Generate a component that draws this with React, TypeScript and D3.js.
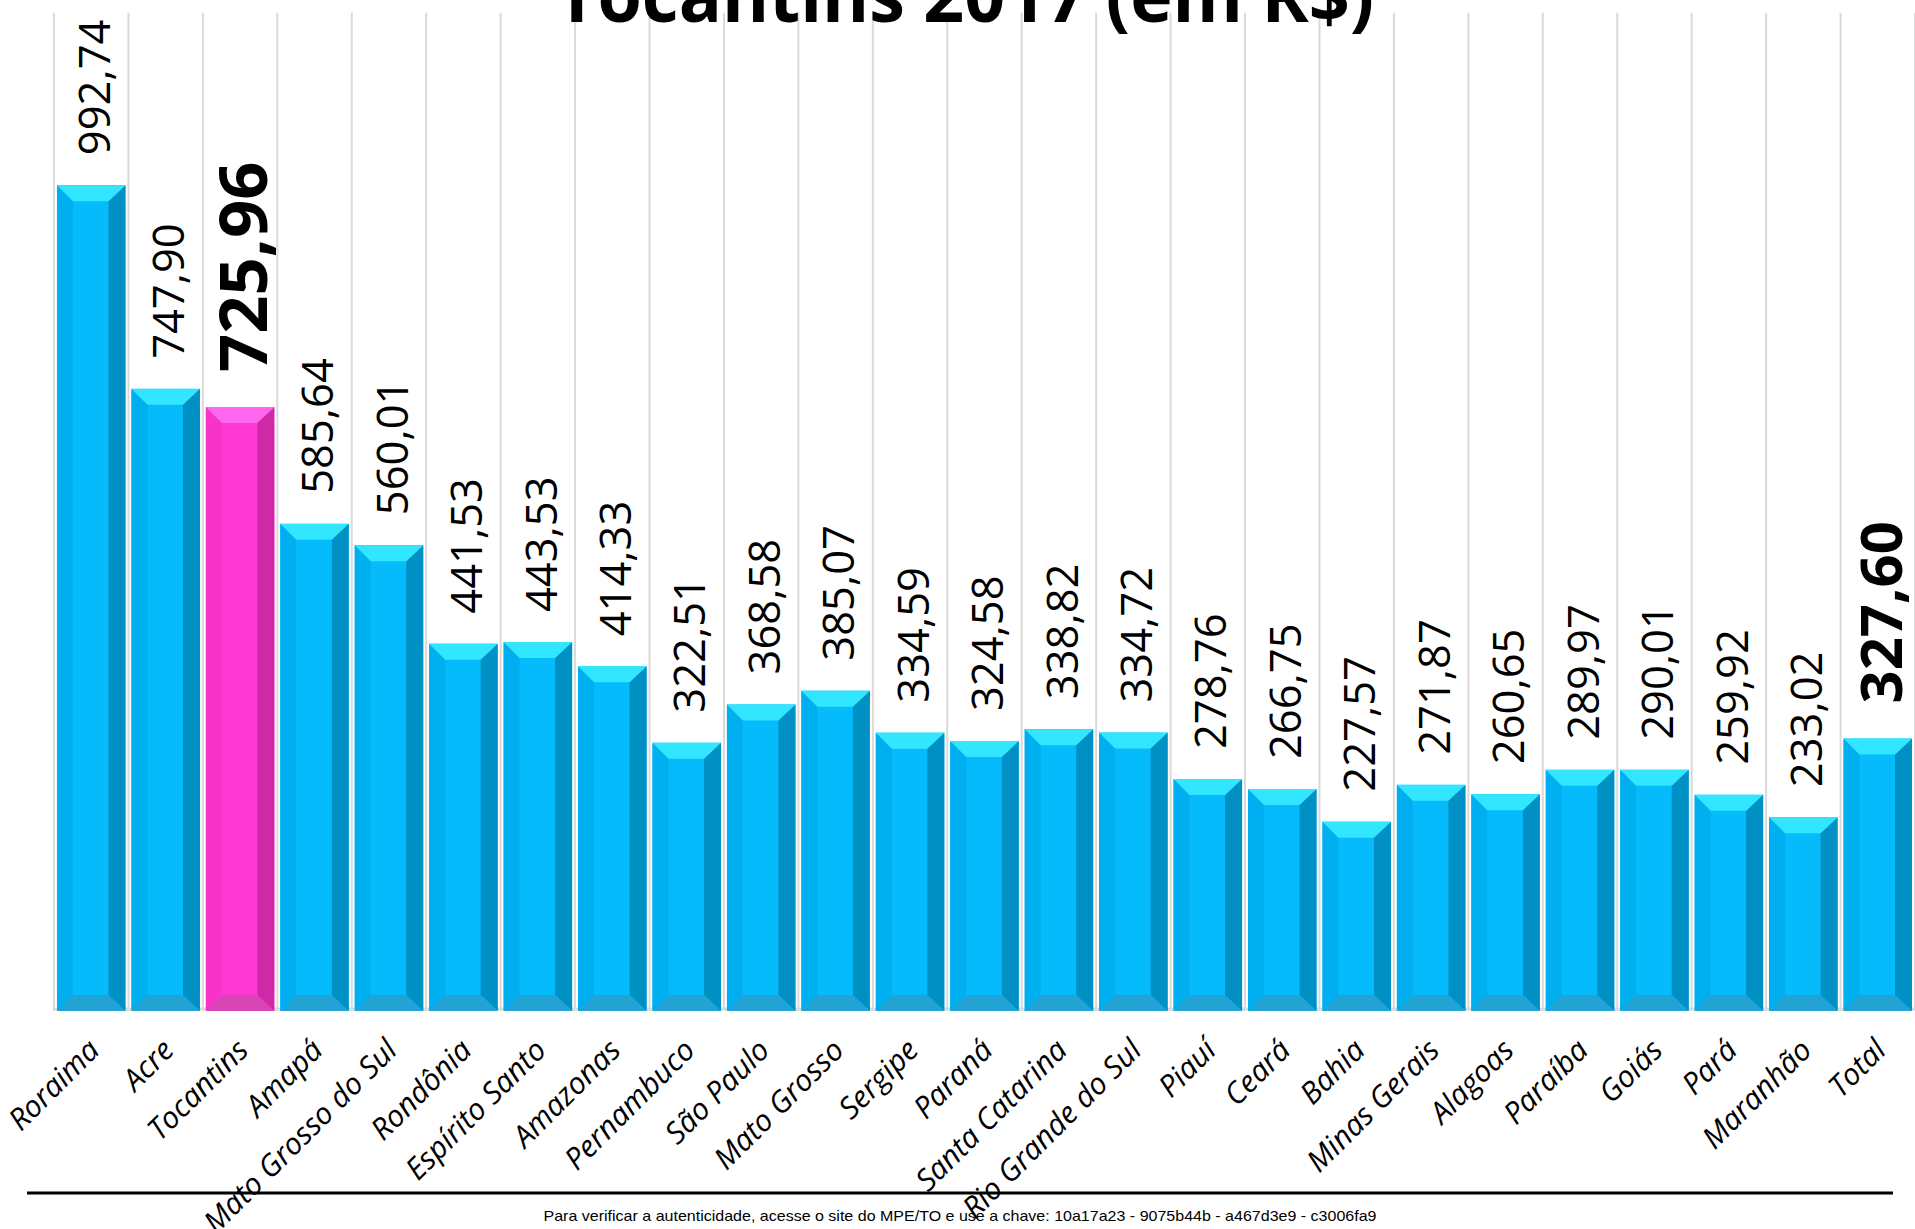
import React from "react";
import * as d3 from "d3";

const categories = [
  "Roraima", "Acre", "Tocantins", "Amapá", "Mato Grosso do Sul", "Rondônia",
  "Espírito Santo", "Amazonas", "Pernambuco", "São Paulo", "Mato Grosso", "Sergipe",
  "Paraná", "Santa Catarina", "Rio Grande do Sul", "Piauí", "Ceará", "Bahia",
  "Minas Gerais", "Alagoas", "Paraíba", "Goiás", "Pará", "Maranhão", "Total",
];
const values = [
  992.74, 747.9, 725.96, 585.64, 560.01, 441.53, 443.53, 414.33, 322.51, 368.58,
  385.07, 334.59, 324.58, 338.82, 334.72, 278.76, 266.75, 227.57, 271.87, 260.65,
  289.97, 290.01, 259.92, 233.02, 327.6,
];
const valueLabels = [
  "992,74", "747,90", "725,96", "585,64", "560,01", "441,53", "443,53", "414,33",
  "322,51", "368,58", "385,07", "334,59", "324,58", "338,82", "334,72", "278,76",
  "266,75", "227,57", "271,87", "260,65", "289,97", "290,01", "259,92", "233,02", "327,60",
];
const titleText = "Tocantins 2017 (em R$)";
const footerText =
  "Para verificar a autenticidade, acesse o site do MPE/TO e use a chave: 10a17a23 - 9075b44b - a467d3e9 - c3006fa9";

const W = 1915;
const H = 1229;

const blue = { face: "#05bbfc", left: "#00aff0", right: "#0090c4", top: "#33e6ff", bottom: "#22a3d4" };
const pink = { face: "#ff38d4", left: "#f733c9", right: "#cf2aa6", top: "#ff66ee", bottom: "#da45b6" };

export default function App() {
  const x = d3.scaleBand<string>().domain(categories).range([54, 1915]).paddingInner(0.08).paddingOuter(0.04);
  const y = d3.scaleLinear().domain([0, 1200]).range([1011, 12.8]);
  const step = x.step();
  const bw = x.bandwidth();
  const b = 16;
  const y0 = y(0);
  const gridXs = d3.range(categories.length + 1).map((i) => 54 + i * step);

  return (
    <div style={{ position: "absolute", left: 0, top: 0 }}>
      <svg width={W} height={H} style={{ display: "block" }}>
        <rect x={0} y={0} width={W} height={H} fill="#ffffff" />
        {gridXs.map((gx, i) => (
          <line key={i} x1={gx} x2={gx} y1={y(1200)} y2={y0} stroke="#d9d9d9" strokeWidth={2} />
        ))}
        <line x1={54} x2={1915} y1={y0 - 2} y2={y0 - 2} stroke="#d9d9d9" strokeWidth={3} />
        <text
          x={965}
          y={22}
          textAnchor="middle"
          fontFamily="'Open Sans', sans-serif"
          fontWeight={700}
          fontSize={74}
          textLength={818}
          lengthAdjust="spacingAndGlyphs"
          fill="#000"
        >
          {titleText}
        </text>
        {categories.map((c, i) => {
          const x0 = x(c) as number;
          const x1 = x0 + bw;
          const yt = y(values[i]);
          const col = c === "Tocantins" ? pink : blue;
          return (
            <g key={c}>
              <rect x={x0} y={yt} width={bw} height={y0 - yt} fill={col.face} />
              <polygon points={`${x0},${yt} ${x0 + b},${yt + b} ${x0 + b},${y0 - b} ${x0},${y0}`} fill={col.left} />
              <polygon points={`${x1},${yt} ${x1 - b - 1},${yt + b} ${x1 - b - 1},${y0 - b} ${x1},${y0}`} fill={col.right} />
              <polygon points={`${x0},${yt} ${x1},${yt} ${x1 - b - 1},${yt + b} ${x0 + b},${yt + b}`} fill={col.top} />
              <polygon points={`${x0},${y0} ${x0 + b},${y0 - b} ${x1 - b - 1},${y0 - b} ${x1},${y0}`} fill={col.bottom} />
            </g>
          );
        })}
        {categories.map((c, i) => {
          const cx = (x(c) as number) + bw / 2;
          const yt = y(values[i]);
          const bold = c === "Tocantins" || c === "Total";
          const fs = c === "Tocantins" ? 67 : c === "Total" ? 58 : 43.5;
          const gap = bold ? 35 : 30;
          const tx = cx + 3 + 0.36 * fs;
          const ty = yt - gap;
          return (
            <text
              key={"v" + c}
              transform={`translate(${tx},${ty}) rotate(-90)`}
              fontFamily="'Open Sans', sans-serif"
              fontWeight={bold ? 700 : 400}
              fontSize={fs}
              fill="#000"
            >
              {valueLabels[i]}
            </text>
          );
        })}
        {categories.map((c) => {
          const cx = (x(c) as number) + bw / 2;
          return (
            <text
              key={"c" + c}
              transform={`translate(${cx + 10},${1052}) rotate(-45)`}
              textAnchor="end"
              fontFamily="'Open Sans', sans-serif"
              fontStyle="italic"
              fontSize={30}
              fill="#000"
            >
              {c}
            </text>
          );
        })}
        <line x1={27} x2={1893} y1={1193} y2={1193} stroke="#000" strokeWidth={3} />
        <text
          x={960}
          y={1221}
          textAnchor="middle"
          fontFamily="'Liberation Sans Narrow', 'Liberation Sans', Arial, sans-serif"
          fontSize={15}
          textLength={833}
          lengthAdjust="spacingAndGlyphs"
          fill="#000"
        >
          {footerText}
        </text>
      </svg>
    </div>
  );
}
